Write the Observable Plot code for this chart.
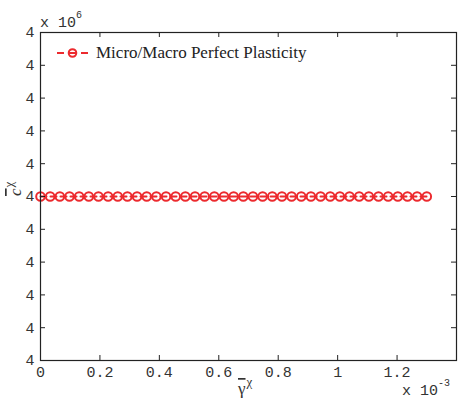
<!DOCTYPE html>
<html><head><meta charset="utf-8">
<script src="https://cdn.jsdelivr.net/npm/d3@7"></script>
<script src="https://cdn.jsdelivr.net/npm/@observablehq/plot@0.6"></script>
<style>body{margin:0;background:#fff;overflow:hidden}</style>
</head><body><div id="chart"></div>
<script>
// x in units of 1e-3, y in units of 1e6
const gammaVals = d3.range(41).map(i => i * 1.3 / 40);
const cVals = gammaVals.map(() => 4);
const xTicks = [0, 0.2, 0.4, 0.6, 0.8, 1.0, 1.2];
const yTicks = d3.range(11).map(i => 3.99999 + i * 0.000002);
const seriesName = "Micro/Macro Perfect Plasticity";
const data = gammaVals.map((g, i) => ({g, c: cVals[i]}));

const W = 461, H = 402, mL = 40, mR = 5, mT = 32, mB = 42;
const pw = W - mL - mR, ph = H - mT - mB;
const red = "#ec2a2e";
const axisCol = "#222";
const mono = "'Liberation Mono', 'DejaVu Sans Mono', monospace";
const serif = "'Liberation Serif', 'DejaVu Serif', serif";

const plot = Plot.plot({
  width: W, height: H,
  marginLeft: mL, marginRight: mR, marginTop: mT, marginBottom: mB,
  style: {fontFamily: mono, fontSize: "15px", color: "#333", background: "#fff"},
  x: {domain: [0, 1.4], ticks: xTicks},
  y: {domain: [3.99999, 4.00001], ticks: yTicks},
  marks: [
    Plot.line(data, {x: "g", y: "c", stroke: red, strokeWidth: 2, strokeDasharray: "6,4"}),
    Plot.dot(data, {x: "g", y: "c", r: 4.3, stroke: red, strokeWidth: 2, fill: "none"}),
    Plot.tickX(xTicks, {x: d => d, stroke: axisCol, insetTop: ph - 5}),
    Plot.tickX(xTicks, {x: d => d, stroke: axisCol, insetBottom: ph - 5}),
    Plot.tickY(yTicks, {y: d => d, stroke: axisCol, insetRight: pw - 5}),
    Plot.tickY(yTicks, {y: d => d, stroke: axisCol, insetLeft: pw - 5}),
    Plot.frame({stroke: axisCol, strokeWidth: 1.2}),
    Plot.axisX({ticks: xTicks, tickSize: 0, tickPadding: 6, tickFormat: d => d === 0 ? "0" : (d === 1 ? "1" : d3.format(".1f")(d)), label: null, fill: "#333"}),
    Plot.axisY({ticks: yTicks, tickSize: 0, tickPadding: 6, tickFormat: d3.format(".0f"), label: null, fill: "#333"})
  ]
});

const svg = d3.select(plot);
const g = svg.append("g").attr("text-anchor", "start");
// exponent labels
const e6 = g.append("text").attr("x", 40).attr("y", 27).attr("font-family", mono).attr("font-size", 15).attr("fill", "#333");
e6.append("tspan").text("x 10");
e6.append("tspan").attr("dy", -9).attr("font-size", 10).text("6");
const e3 = g.append("text").attr("x", 402).attr("y", 395).attr("font-family", mono).attr("font-size", 15).attr("fill", "#333");
e3.append("tspan").text("x 10");
e3.append("tspan").attr("dy", -9).attr("font-size", 10).text("-3");
// x axis label: gamma-bar ^ chi (bar as overline)
const xl = g.append("text").attr("x", 238).attr("y", 394).attr("font-family", serif).attr("fill", "#333").attr("font-size", 17);
xl.append("tspan").style("text-decoration", "overline").text("γ");
xl.append("tspan").attr("dx", 1).attr("dy", -8).attr("font-size", 13).text("χ");
// y axis label: c-bar ^ chi (rotated)
const yl = g.append("text").attr("transform", "translate(21,196) rotate(-90)").attr("font-family", serif).attr("fill", "#333").attr("font-size", 17);
yl.append("tspan").attr("font-style", "italic").style("text-decoration", "overline").text("c");
yl.append("tspan").attr("dx", 1).attr("dy", -8).attr("font-size", 13).text("χ");
// legend
const ly = 53;
g.append("line").attr("x1", 57).attr("x2", 89).attr("y1", ly).attr("y2", ly)
  .attr("stroke", red).attr("stroke-width", 2).attr("stroke-dasharray", "7,5");
g.append("circle").attr("cx", 72.5).attr("cy", ly).attr("r", 3.8).attr("fill", "none").attr("stroke", red).attr("stroke-width", 2);
g.append("text").attr("x", 96).attr("y", 57.5).attr("font-family", serif).attr("font-size", 17).attr("fill", "#222").text(seriesName);

document.getElementById("chart").appendChild(plot);
</script></body></html>
